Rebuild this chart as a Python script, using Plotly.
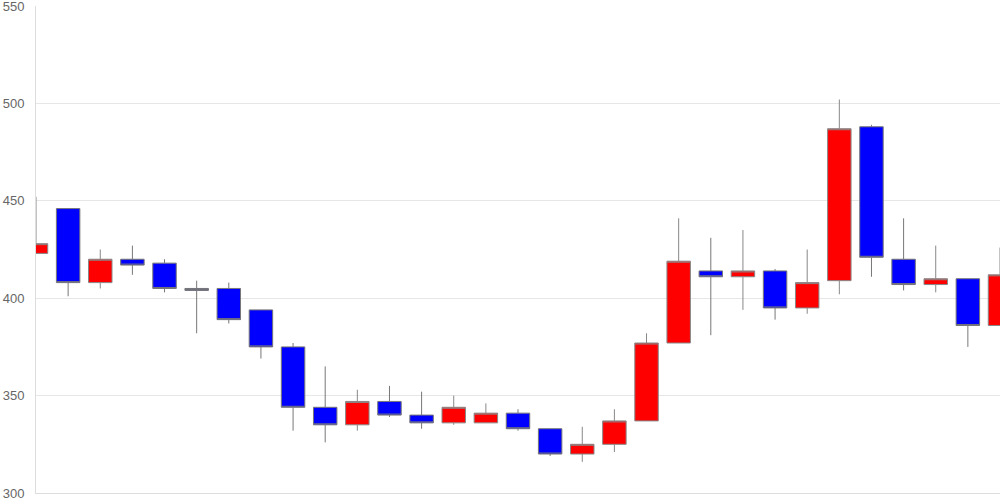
import plotly.graph_objects as go

idx = list(range(31))
opens  = [423, 446, 408, 420, 418, 405, 405, 394, 375, 344, 335, 347, 340, 336, 336, 341, 333, 320, 325, 337, 377, 414, 411, 414, 395, 409, 488, 420, 407, 410, 386]
highs  = [452, 446, 425, 427, 420, 409, 408, 394, 377, 365, 353, 355, 352, 350, 346, 343, 333, 334, 343, 382, 441, 431, 435, 415, 425, 502, 489, 441, 427, 410, 426]
lows   = [423, 401, 405, 412, 403, 382, 387, 369, 332, 326, 332, 339, 333, 335, 336, 332, 319, 316, 321, 337, 377, 381, 394, 389, 392, 402, 411, 404, 403, 375, 386]
closes = [428, 408, 420, 417, 405, 404, 389, 375, 344, 335, 347, 340, 336, 344, 341, 333, 320, 325, 337, 377, 419, 411, 414, 395, 408, 487, 421, 407, 410, 386, 412]
y_ticks = [300, 350, 400, 450, 500, 550]

fig = go.Figure(go.Candlestick(
    x=idx, open=opens, high=highs, low=lows, close=closes,
    increasing=dict(fillcolor="#ff0000", line=dict(color="#888888", width=1)),
    decreasing=dict(fillcolor="#0000ff", line=dict(color="#777777", width=1)),
    whiskerwidth=0,
    hoverinfo="x+y",
))

fig.update_layout(
    template="none",
    width=1000, height=500,
    margin=dict(l=36, r=0, t=6, b=7, pad=0, autoexpand=False),
    paper_bgcolor="white", plot_bgcolor="white",
    showlegend=False,
    boxgap=0.27, boxgroupgap=0,
    font=dict(family="Liberation Sans, Arial, sans-serif", size=13, color="#666666"),
    xaxis=dict(
        range=[0, 30], autorange=False, rangeslider=dict(visible=False),
        showticklabels=False, showgrid=False, zeroline=False,
        showline=True, linecolor="#dddddd", linewidth=1,
        ticks="", automargin=False,
    ),
    yaxis=dict(
        range=[300, 550], autorange=False, tickvals=y_ticks,
        showgrid=True, gridcolor="#e6e6e6", gridwidth=1,
        zeroline=False, showline=True, linecolor="#dddddd", linewidth=1,
        ticks="", ticklabelstandoff=8, automargin=False,
        ticklabeloverflow="allow",
        tickfont=dict(size=13, color="#666666"),
    ),
)

fig.write_html(
    "out.html",
    config={"displayModeBar": False},
    post_script="document.body.style.margin='0';document.body.style.overflow='hidden';",
)
